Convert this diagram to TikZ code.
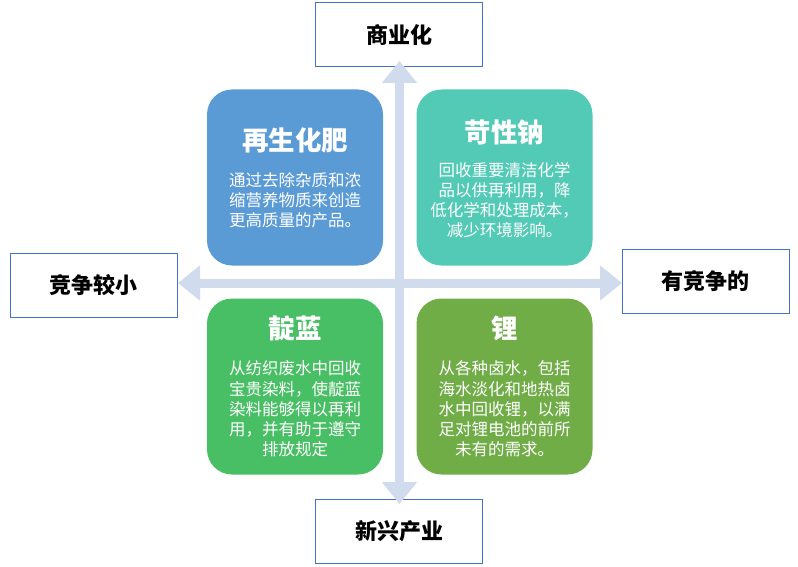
\documentclass[tikz,border=0pt]{standalone}
\usepackage{fontspec}
\setmainfont{Noto Sans CJK SC}
\usetikzlibrary{arrows.meta}
\definecolor{cTL}{HTML}{5B9BD5}
\definecolor{cTR}{HTML}{52CAB6}
\definecolor{cBL}{HTML}{48BF64}
\definecolor{cBR}{HTML}{70AD47}
\definecolor{arr}{HTML}{D0DBEE}
\definecolor{edge}{HTML}{4472C4}
\begin{document}
\begin{tikzpicture}[x=1pt,y=-1pt,
 sidebox/.style={draw=edge, line width=1pt, fill=white, minimum width=167pt, minimum height=64pt, inner sep=0pt, font=\fontsize{22}{26}\selectfont\bfseries},
 card/.style={rounded corners=25pt, minimum width=176pt, minimum height=176pt, inner sep=0pt},
 ttl/.style={text=white, font=\fontsize{26.5}{31}\selectfont\bfseries},
 body/.style={text=white, align=center, inner sep=0pt, font=\fontsize{16.5}{20.2}\selectfont},
 bigarrow/.style={draw=arr, line width=9pt, {Triangle[width=34pt,length=22pt]}-{Triangle[width=34pt,length=22pt]}}]
\useasboundingbox (0,0) rectangle (798,567);
% side labels
\node[sidebox] (top) at (399,35) {商业化};
\node[sidebox] (bot) at (399,531) {新兴产业};
\node[sidebox] (lft) at (93.5,285) {竞争较小};
\node[sidebox] (rgt) at (705.5,281) {有竞争的};
% axes
\coordinate (vt) at (399.5,61);
\coordinate (vb) at (399.5,504);
\coordinate (hl) at (178,283);
\coordinate (hr) at (622,283);
\draw[bigarrow] (vt) -- (vb);
\draw[bigarrow] (hl) -- (hr);
% cards
\node[card, fill=cTL] (tl) at (295,177.5) {};
\node[card, fill=cTR] (tr) at (504.5,177.5) {};
\node[card, fill=cBL] (bl) at (295,386.5) {};
\node[card, fill=cBR] (br) at (504.5,386.5) {};
% titles
\node[ttl] (tlt) at (295,140) {再生化肥};
\node[ttl] (trt) at (504.5,132) {苛性钠};
\node[ttl] (blt) at (295,328) {靛蓝};
\node[ttl] (brt) at (504.5,328) {锂};
% bodies
\node[body] (tlb) at (295,200) {通过去除杂质和浓\\缩营养物质来创造\\更高质量的产品。};
\node[body] (trb) at (504.5,200) {回收重要清洁化学\\品以供再利用，降\\低化学和处理成本，\\减少环境影响。};
\node[body] (blb) at (295,409) {从纺织废水中回收\\宝贵染料，使靛蓝\\染料能够得以再利\\用，并有助于遵守\\排放规定};
\node[body] (brb) at (504.5,409) {从各种卤水，包括\\海水淡化和地热卤\\水中回收锂，以满\\足对锂电池的前所\\未有的需求。};
\end{tikzpicture}
\end{document}
